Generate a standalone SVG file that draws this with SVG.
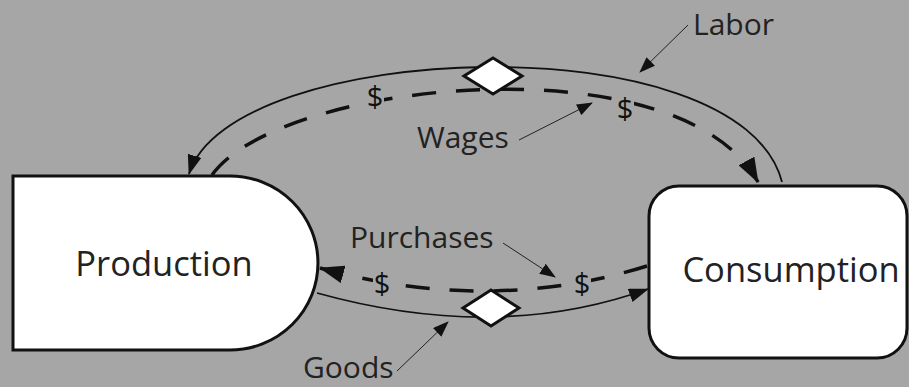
<svg xmlns="http://www.w3.org/2000/svg" width="909" height="387" viewBox="0 0 909 387">
<style>
.bg{fill:#a6a6a6}
.node{fill:#fff;stroke:#111;stroke-width:3}
.ntext{font-family:"Open Sans","Noto Sans",sans-serif;font-size:34.5px;fill:#222;text-anchor:middle}
.label{font-family:"Open Sans","Noto Sans",sans-serif;font-size:30px;fill:#222}
.dollar{font-family:"Open Sans","Noto Sans",sans-serif;font-size:29px;fill:#111;text-anchor:middle;dominant-baseline:central}
.flow{fill:none;stroke:#111;stroke-width:1.8}
.money{fill:none;stroke:#111;stroke-width:3.5;stroke-dasharray:24 20}
.ptr{fill:none;stroke:#222;stroke-width:1}
.mask{fill:#a6a6a6}
.dia{fill:#fff;stroke:#111;stroke-width:3}
</style>
<defs>
<marker id="arr" viewBox="0 0 20 14" refX="19" refY="7" markerWidth="20" markerHeight="14" markerUnits="userSpaceOnUse" orient="auto"><path d="M0 0L20 7L0 14Z" fill="#111"/></marker>
<marker id="arrBig" viewBox="0 0 25 18" refX="24" refY="9" markerWidth="25" markerHeight="18" markerUnits="userSpaceOnUse" orient="auto"><path d="M0 0L25 9L0 18Z" fill="#111"/></marker>
<marker id="ptrArr" viewBox="0 0 16 12" refX="15" refY="6" markerWidth="16" markerHeight="12" markerUnits="userSpaceOnUse" orient="auto"><path d="M0 0L16 6L0 12Z" fill="#111"/></marker>
</defs>
<rect class="bg" x="0" y="0" width="909" height="387"/>
<g id="connectors">
<path id="labor" class="flow" d="M782 182 C740 20 230 40 189 174" marker-end="url(#arr)"/>
<path id="wages" class="money" d="M212 175 C280 80 680 40 758 182" marker-end="url(#arrBig)"/>
<path id="goods" class="flow" d="M317 293 Q497 343 648 289" marker-end="url(#arr)"/>
<path id="purchases" class="money" d="M647 266 Q490 315 320 268" marker-end="url(#arrBig)"/>
<rect class="mask" x="366" y="81" width="18" height="29"/>
<text class="dollar" x="375" y="95">$</text>
<rect class="mask" x="616" y="93" width="18" height="29"/>
<text class="dollar" x="625" y="107">$</text>
<rect class="mask" x="373" y="268" width="18" height="29"/>
<text class="dollar" x="382" y="282">$</text>
<rect class="mask" x="573" y="268" width="18" height="29"/>
<text class="dollar" x="582" y="282">$</text>
<polygon id="diamond-top" class="dia" points="493,58 522,76 493,94 464,76"/>
<polygon id="diamond-bottom" class="dia" points="491,290 519,308 491,326 463,308"/>
<line class="ptr" x1="688" y1="25" x2="640" y2="72" marker-end="url(#ptrArr)"/>
<line class="ptr" x1="519" y1="140" x2="592" y2="103" marker-end="url(#ptrArr)"/>
<line class="ptr" x1="503" y1="243" x2="555" y2="277" marker-end="url(#ptrArr)"/>
<line class="ptr" x1="397" y1="371" x2="448" y2="322" marker-end="url(#ptrArr)"/>
</g>
<g id="labels">
<text class="label" x="303" y="378">Goods</text>
<text class="label" x="693" y="35">Labor</text>
<text class="label" x="417" y="148">Wages</text>
<text class="label" x="350" y="248">Purchases</text>
</g>
<g id="production">
<path class="node" d="M13 176H230A88 87 0 0 1 230 350H13Z"/>
<text class="ntext" x="164" y="276">Production</text>
</g>
<g id="consumption">
<rect class="node" x="649" y="186" width="258" height="172" rx="30"/>
<text class="ntext" x="791" y="282">Consumption</text>
</g>
</svg>
